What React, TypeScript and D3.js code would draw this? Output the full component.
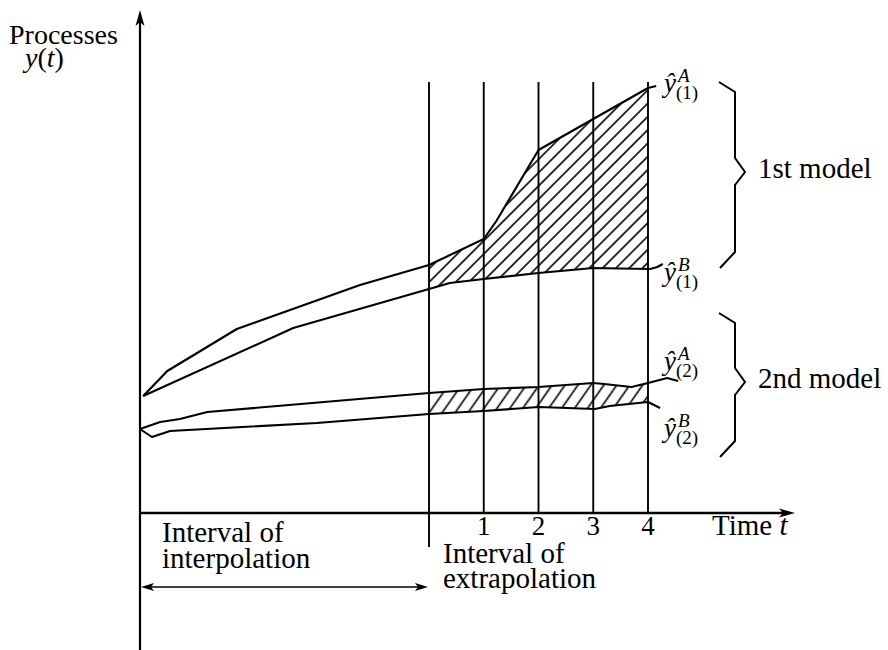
import * as d3 from "d3";

// time t (0 = start of extrapolation) and process value y(t), arbitrary units
const tA1 = [-5.22, -4.78, -3.51, -1.26, 0, 1, 1.23, 2, 3, 4, 4.15];
const yA1 = [23.4, 28.4, 36.8, 45.6, 49.6, 54.8, 58.4, 72.6, 78.8, 85.0, 85.4];
const tB1 = [-5.22, -2.48, 0, 0.38, 1, 2, 3, 4, 4.04, 4.17, 4.27];
const yB1 = [23.4, 37.0, 44.8, 46.0, 46.8, 48.0, 49.0, 48.8, 48.8, 49.2, 49.8];
const tA2 = [-5.28, -4.91, -4.55, -4.05, 0, 1, 2, 3, 3.2, 3.7, 4, 4.35, 4.55];
const yA2 = [16.8, 18.2, 18.8, 20.2, 24.0, 24.8, 25.2, 26.0, 25.8, 25.2, 26.0, 27.0, 26.4];
const tB2 = [-5.28, -5.06, -4.73, -2.05, 0, 1, 2, 3.03, 3.3, 4, 4.22];
const yB2 = [16.8, 15.2, 16.4, 18.0, 19.8, 20.4, 21.2, 20.8, 21.4, 22.2, 21.0];

const tickLabels = ["1", "2", "3", "4"];
const gridTimes = [0, 1, 2, 3, 4];
const gridTop = 86.2;

// label anchors (value units) and brace ranges [top, middle, bottom]
const labelNames = ["A1", "B1", "A2", "B2"];
const labelSup = ["A", "B", "A", "B"];
const labelSub = ["(1)", "(1)", "(2)", "(2)"];
const labelY = [84.2, 46.4, 28.6, 15.2];
const braceNames = ["1st model", "2nd model"];
const braceRanges = [
  [86.2, 68.2, 49],
  [40, 26.2, 11.2],
];

const W = 888;
const H = 650;
const font = "'Liberation Serif', 'Times New Roman', serif";

const x = d3.scaleLinear().domain([0, 4]).range([429, 648]);
const y = d3.scaleLinear().domain([0, 100]).range([513, 13]);

const zip = (ts: number[], ys: number[]) => ts.map((t, i) => [t, ys[i]] as [number, number]);

const line = d3
  .line<[number, number]>()
  .x((d) => x(d[0]))
  .y((d) => y(d[1]));

const band = (ta: number[], ya: number[], tb: number[], yb: number[]) => {
  const upper = zip(ta, ya).filter((d) => d[0] >= 0 && d[0] <= 4);
  const lower = zip(tb, yb).filter((d) => d[0] >= 0 && d[0] <= 4).reverse();
  return d3.line<[number, number]>().x((d) => x(d[0])).y((d) => y(d[1])).curve(d3.curveLinearClosed)(
    upper.concat(lower)
  ) as string;
};

const brace = (r: number[]) => {
  const bx = x(4) + 87;
  const [y0, ym, y1] = [y(r[0]), y(r[1]), y(r[2])];
  return `M${bx - 16},${y0} L${bx},${y0 + 10} L${bx},${ym - 14} L${bx + 10},${ym} L${bx},${ym + 13} L${bx},${y1 - 16} L${bx - 15},${y1}`;
};

export default function App() {
  const x0 = 140;
  const axisY = y(0);
  const arrowY = axisY + 74;
  const series = [
    zip(tA1, yA1),
    zip(tB1, yB1),
    zip(tA2, yA2),
    zip(tB2, yB2),
  ];
  return (
    <svg
      width={W}
      height={H}
      style={{ position: "absolute", left: 0, top: 0, background: "#fff" }}
      fontFamily={font}
    >
      <defs>
        <pattern id="hatch1" patternUnits="userSpaceOnUse" width={9.4} height={10} patternTransform="rotate(45)">
          <line x1={4.7} y1={0} x2={4.7} y2={10} stroke="#000" strokeWidth={1.6} />
        </pattern>
        <pattern id="hatch2" patternUnits="userSpaceOnUse" width={10.6} height={10} patternTransform="rotate(35)">
          <line x1={5.3} y1={0} x2={5.3} y2={10} stroke="#000" strokeWidth={1.6} />
        </pattern>
      </defs>

      {/* hatched forecast bands */}
      <path d={band(tA1, yA1, tB1, yB1)} fill="url(#hatch1)" stroke="none" />
      <path d={band(tA2, yA2, tB2, yB2)} fill="url(#hatch2)" stroke="none" />

      {/* vertical time lines */}
      {gridTimes.map((t) => (
        <line
          key={t}
          x1={x(t)}
          x2={x(t)}
          y1={y(gridTop)}
          y2={t === 0 ? axisY + 34 : axisY}
          stroke="#000"
          strokeWidth={1.9}
        />
      ))}

      {/* process curves */}
      {series.map((s, i) => (
        <path key={i} d={line(s) as string} fill="none" stroke="#000" strokeWidth={2.1} strokeLinejoin="round" />
      ))}

      {/* axes */}
      <line x1={x0} x2={x0} y1={H} y2={20} stroke="#000" strokeWidth={2.2} />
      <path d={`M${x0},10 L${x0 - 4.5},26 L${x0},22 L${x0 + 4.5},26 Z`} fill="#000" />
      <line x1={x0} x2={786} y1={axisY} y2={axisY} stroke="#000" strokeWidth={2.4} />
      <path d={`M795,${axisY} L779,${axisY - 4.5} L783,${axisY} L779,${axisY + 4.5} Z`} fill="#000" />

      {/* interpolation arrow */}
      <line x1={x0 + 6} x2={x(0) - 6} y1={arrowY} y2={arrowY} stroke="#000" strokeWidth={1.5} />
      <path d={`M${x0 + 1},${arrowY} L${x0 + 14},${arrowY - 4} L${x0 + 11},${arrowY} L${x0 + 14},${arrowY + 4} Z`} fill="#000" />
      <path d={`M${x(0) - 1},${arrowY} L${x(0) - 14},${arrowY - 4} L${x(0) - 11},${arrowY} L${x(0) - 14},${arrowY + 4} Z`} fill="#000" />

      {/* tick labels */}
      {tickLabels.map((lab, i) => (
        <text key={lab} x={x(i + 1)} y={axisY + 22} fontSize={27} textAnchor="middle">
          {lab}
        </text>
      ))}

      {/* axis titles */}
      <text x={9} y={44} fontSize={28}>
        Processes
        <tspan x={25} dy={23}>
          <tspan fontStyle="italic">y</tspan>(<tspan fontStyle="italic">t</tspan>)
        </tspan>
      </text>
      <text x={712} y={axisY + 22} fontSize={29}>
        Time <tspan fontStyle="italic">t</tspan>
      </text>

      <text x={162} y={axisY + 29} fontSize={29}>
        Interval of
        <tspan x={162} dy={26}>interpolation</tspan>
      </text>
      <text x={x(0) + 14} y={axisY + 50} fontSize={29}>
        Interval of
        <tspan x={x(0) + 14} dy={25}>extrapolation</tspan>
      </text>

      {/* curve labels */}
      {labelNames.map((n, i) => {
        const ly = y(labelY[i]);
        const lx = x(4) + 16;
        return (
          <text key={n} x={lx} y={ly} fontSize={27} fontStyle="italic">
            ŷ
            <tspan x={lx + 14} y={ly - 10} fontSize={19}>{labelSup[i]}</tspan>
            <tspan x={lx + 12} y={ly + 7} fontSize={19} fontStyle="normal">{labelSub[i]}</tspan>
          </text>
        );
      })}

      {/* model braces */}
      {braceNames.map((n, i) => (
        <g key={n}>
          <path d={brace(braceRanges[i])} fill="none" stroke="#000" strokeWidth={2} strokeLinejoin="miter" />
          <text x={x(4) + 110} y={y(braceRanges[i][1]) + 6} fontSize={29}>{n}</text>
        </g>
      ))}
    </svg>
  );
}
